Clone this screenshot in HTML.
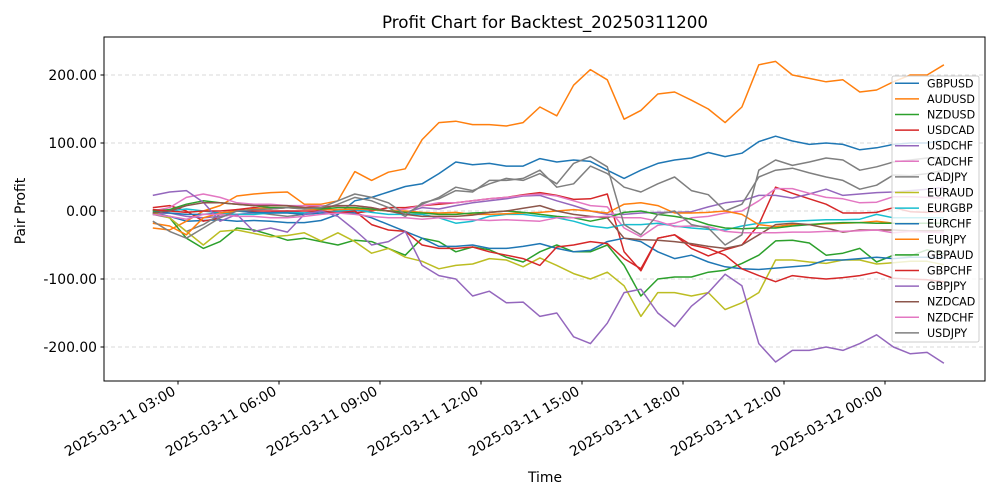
<!DOCTYPE html>
<html><head><meta charset="utf-8"><style>
html,body{margin:0;padding:0;background:#fff;}
svg{display:block;font-family:"DejaVu Sans","Liberation Sans",sans-serif;}
</style></head><body>
<svg id="chart" width="1000" height="500" viewBox="0 0 1000 500" xmlns="http://www.w3.org/2000/svg">
<rect x="0" y="0" width="1000" height="500" fill="#fff"/>
<text x="545" y="28" text-anchor="middle" font-size="16.7">Profit Chart for Backtest_20250311200</text>
<g id="grid"></g>
<g id="series"></g>
<rect x="104" y="37" width="881" height="344" fill="none" stroke="#000" stroke-width="1"/>
<g id="yaxis"></g>
<g id="xaxis"></g>
<text x="545" y="482" text-anchor="middle" font-size="13.9">Time</text>
<text transform="translate(25,211) rotate(-90)" text-anchor="middle" font-size="13.9">Pair Profit</text>
<g id="legend"></g>
</svg>
<script>
const seriesNames = ["GBPUSD","AUDUSD","NZDUSD","USDCAD","USDCHF","CADCHF","CADJPY","EURAUD","EURGBP","EURCHF","EURJPY","GBPAUD","GBPCHF","GBPJPY","NZDCAD","NZDCHF","USDJPY"];
const seriesColors = ["#1f77b4","#ff7f0e","#2ca02c","#d62728","#9467bd","#e377c2","#7f7f7f","#bcbd22","#17becf","#1f77b4","#ff7f0e","#2ca02c","#d62728","#9467bd","#8c564b","#e377c2","#7f7f7f"];
const startHour = 2.25;
const stepHours = 0.5;
const yTicks = [-200,-100,0,100,200];
const yTickLabels = ["-200.00","-100.00","0.00","100.00","200.00"];
const xTickHours = [3,6,9,12,15,18,21,24];
const xTickLabels = ["2025-03-11 03:00","2025-03-11 06:00","2025-03-11 09:00","2025-03-11 12:00","2025-03-11 15:00","2025-03-11 18:00","2025-03-11 21:00","2025-03-12 00:00"];

const GBPUSD = [-3,-8,-15,-14,-13,-15,-14,-15,-17,-17,-14,-5,15,20,28,36,40,55,72,68,70,66,66,77,72,75,73,60,48,60,70,75,78,86,80,85,102,110,103,98,100,98,90,93,98,100,100,104];
const AUDUSD = [-25,-28,-15,0,8,22,25,27,28,10,10,15,58,45,57,62,105,130,132,127,127,125,130,153,140,185,208,193,135,148,172,175,163,150,130,153,215,220,200,195,190,193,175,178,190,200,200,215];
const NZDUSD = [-2,-10,-40,-55,-45,-25,-28,-35,-43,-40,-45,-50,-43,-45,-55,-65,-40,-45,-60,-53,-57,-68,-75,-60,-50,-60,-60,-50,-80,-125,-100,-97,-97,-90,-87,-77,-65,-44,-43,-47,-65,-62,-55,-75,-65,-66,-57,-63];
const USDCAD = [5,8,0,-15,-10,2,5,3,5,8,5,0,-3,0,5,5,8,10,12,15,18,20,24,27,23,17,18,25,-60,-88,-40,-35,-55,-66,-57,-50,-20,35,26,18,10,-3,-3,-2,5,-1,-2,-1];
const USDCHF = [-5,-3,-8,-10,-8,-5,-3,-2,0,-3,0,-2,0,2,0,-2,5,3,8,12,15,18,22,23,15,8,0,-5,-5,-3,-2,-2,-1,6,12,15,23,23,19,25,32,23,25,27,28,30,32,35];
const CADCHF = [0,5,20,25,20,12,10,10,8,8,8,7,8,5,0,3,8,12,12,15,18,20,23,25,22,15,8,6,-25,-38,-21,-18,-10,-8,-3,0,15,33,33,26,20,18,12,13,21,21,20,19];
const CADJPY = [-5,-10,-30,-20,-5,0,-2,-5,-8,-5,2,10,20,15,5,-8,12,18,30,28,45,45,48,60,35,40,66,55,35,28,40,50,30,24,0,10,50,60,63,56,50,45,32,38,53,52,55,60];
const EURAUD = [-3,-10,-30,-50,-30,-28,-33,-38,-36,-32,-44,-32,-45,-62,-55,-68,-74,-85,-80,-78,-70,-72,-82,-69,-80,-92,-100,-90,-110,-155,-120,-120,-125,-120,-145,-135,-120,-72,-72,-75,-77,-72,-72,-78,-76,-74,-74,-79];
const EURGBP = [2,0,3,0,-3,-5,-5,-3,-2,-3,-3,0,2,-2,-5,-5,-5,-10,-18,-15,-8,-5,-5,-8,-10,-15,-22,-25,-20,-20,-18,-22,-25,-27,-28,-22,-18,-16,-15,-14,-13,-13,-12,-5,-10,-10,-10,-10];
const EURCHF = [0,-3,-5,-5,-3,0,-2,-3,-3,-5,-3,-2,-3,-10,-20,-30,-40,-52,-52,-50,-55,-55,-52,-48,-55,-60,-58,-45,-40,-45,-60,-70,-65,-75,-82,-85,-86,-84,-82,-80,-72,-72,-70,-68,-70,-68,-68,-69];
const EURJPY = [-18,-22,-35,-10,-3,0,3,5,5,3,2,2,3,2,0,0,-2,-3,-2,-5,-5,-4,-3,-2,0,2,0,-3,10,12,8,-3,-3,-2,0,-5,-20,-23,-20,-20,-19,-18,-17,-15,-18,-18,-18,-18];
const GBPAUD = [0,2,10,15,12,10,8,5,5,5,3,5,5,3,0,-2,-3,-5,-5,-3,-2,0,-2,-5,-8,-10,-15,-10,-2,0,-5,-8,-12,-20,-25,-26,-25,-25,-22,-20,-18,-17,-17,-18,-18,-18,-18,-18];
const GBPCHF = [2,0,-2,0,0,2,0,0,0,0,0,-3,0,-20,-28,-30,-50,-55,-55,-53,-60,-65,-70,-80,-53,-50,-45,-48,-70,-85,-40,-35,-50,-55,-65,-85,-95,-104,-95,-98,-100,-98,-95,-90,-99,-100,-101,-104];
const GBPJPY = [23,28,30,13,-15,-5,-30,-25,-31,-5,0,-8,-28,-50,-45,-30,-80,-95,-100,-125,-118,-135,-134,-155,-150,-185,-195,-165,-120,-115,-150,-170,-140,-120,-93,-110,-195,-222,-205,-205,-200,-205,-195,-182,-200,-210,-208,-224];
const NZDCAD = [-3,0,8,12,12,10,8,8,8,5,5,8,8,5,0,-5,-8,-8,-8,-6,-2,0,4,8,0,-5,-8,-10,-40,-42,-43,-45,-48,-52,-55,-50,-35,-20,-18,-20,-25,-31,-28,-28,-28,-29,-29,-29];
const NZDCHF = [-5,-8,-12,-5,-5,-8,-8,-10,-10,-8,-5,-3,-5,-8,-10,-10,-12,-10,-12,-13,-14,-13,-14,-15,-10,-10,-9,-8,-10,-10,-15,-23,-22,-23,-30,-32,-32,-32,-31,-31,-30,-30,-29,-28,-32,-30,-31,-32];
const USDJPY = [-15,-30,-40,-25,-10,0,2,3,5,3,5,15,25,20,12,-5,10,20,35,30,40,48,45,55,40,70,80,65,-20,-35,-5,0,-20,-25,-50,-35,60,75,67,72,78,75,60,65,72,75,78,79];

const seriesValues = [GBPUSD,AUDUSD,NZDUSD,USDCAD,USDCHF,CADCHF,CADJPY,EURAUD,EURGBP,EURCHF,EURJPY,GBPAUD,GBPCHF,GBPJPY,NZDCAD,NZDCHF,USDJPY];

const NS = "http://www.w3.org/2000/svg";
function xScale(h){ return 178 + (h - 3) * (101/3); }
function yScale(v){ return 211 - v * 0.68; }
function mk(tag, attrs, parent){ const e=document.createElementNS(NS,tag); for(const k in attrs) e.setAttribute(k,attrs[k]); parent.appendChild(e); return e; }

const grid=document.getElementById('grid'), yax=document.getElementById('yaxis'), xax=document.getElementById('xaxis');
yTicks.forEach((v,i)=>{
  const y=yScale(v);
  const gl=mk('line',{x1:104,x2:985,y1:y,y2:y,stroke:'#cccccc','stroke-dasharray':'4,3','stroke-width':0.8},grid);
  
  
  const tk=mk('line',{x1:100.5,x2:104,y1:y,y2:y,stroke:'#000'},yax);
  
  
  const t=mk('text',{x:97,y:y+5,'text-anchor':'end','font-size':'13.9'},yax);
  t.textContent=yTickLabels[i];
  
  
});
xTickHours.forEach((h,i)=>{
  const x=xScale(h);
  const tk=mk('line',{x1:x,x2:x,y1:381,y2:384.5,stroke:'#000'},xax);
  
  
  const t=mk('text',{transform:`translate(${x-1.5},394) rotate(-30)`,'text-anchor':'end','font-size':'13.9'},xax);
  t.textContent=xTickLabels[i];
  
  
});

const sg=document.getElementById('series');
seriesValues.forEach((vals,s)=>{
  const pts=vals.map((v,i)=>xScale(startHour+i*stepHours).toFixed(1)+','+yScale(v).toFixed(1)).join(' ');
  const pl=mk('polyline',{points:pts,fill:'none',stroke:seriesColors[s],'stroke-width':1.5,'stroke-linejoin':'round'},sg);
  
  
});

const lg=document.getElementById('legend');
const box=mk('rect',{x:892,y:76,width:87,height:266,rx:2,fill:'#fff','fill-opacity':0.8,stroke:'#cccccc'},lg);


seriesNames.forEach((n,i)=>{
  const y=83.3+i*15.6;
  const g=mk('g',{},lg);
  
  
  mk('line',{x1:895,x2:919,y1:y,y2:y,stroke:seriesColors[i],'stroke-width':1.5},g);
  const t=mk('text',{x:927,y:y+4,'font-size':'11.1'},g);
  t.textContent=n;
});
</script>
</body></html>
